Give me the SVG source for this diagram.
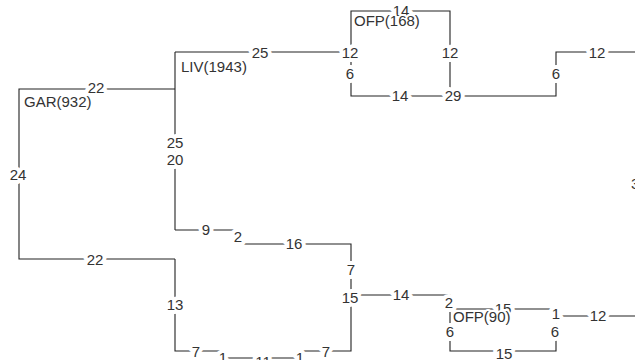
<svg xmlns="http://www.w3.org/2000/svg" width="635" height="360" viewBox="0 0 635 360">
<style>
.ln{fill:none;stroke:#222;stroke-width:1.1}
text{font-family:"Liberation Sans",Arial,sans-serif;font-size:15px;fill:#333;stroke:#fff;stroke-width:8px;paint-order:stroke;stroke-linejoin:round}
.e{text-anchor:middle}
.n{stroke-width:4px}
</style>
<rect width="635" height="360" fill="#fff"/>
<g id="connectors">
<path class="ln" d="M175,89 H19 V259 H175"/>
<path class="ln" d="M175,52 V230"/>
<path class="ln" d="M175,52 H351"/>
<path class="ln" d="M351,11 H450 V96 H351 Z"/>
<path class="ln" d="M450,96 H556 V52 H635"/>
<path class="ln" d="M175,230 H239 V244 H351 V351 H300 V358 H223 V351 H175 V259"/>
<path class="ln" d="M351,295 H450 V309"/>
<path class="ln" d="M450,309 H556 V351 H450 Z"/>
<path class="ln" d="M556,309 V316 H635"/>
<text class="e" x="96" y="93">22</text>
<text class="e" x="18" y="180">24</text>
<text class="e" x="175" y="148">25</text>
<text class="e" x="175" y="165">20</text>
<text class="e" x="260" y="58">25</text>
<text class="e" x="350" y="58">12</text>
<text class="e" x="350" y="79">6</text>
<text class="e" x="401" y="16">14</text>
<text class="e" x="450" y="58">12</text>
<text class="e" x="400" y="101">14</text>
<text class="e" x="453" y="101">29</text>
<text class="e" x="556" y="79">6</text>
<text class="e" x="597" y="58">12</text>
<text class="e" x="206" y="235">9</text>
<text class="e" x="238" y="242">2</text>
<text class="e" x="294" y="249">16</text>
<text class="e" x="351" y="275">7</text>
<text class="e" x="350" y="303">15</text>
<text class="e" x="401" y="300">14</text>
<text class="e" x="449" y="308">2</text>
<text class="e" x="503" y="314">15</text>
<text class="e" x="556" y="319">1</text>
<text class="e" x="450" y="337">6</text>
<text class="e" x="555" y="337">6</text>
<text class="e" x="504" y="359">15</text>
<text class="e" x="598" y="321">12</text>
<text class="e" x="175" y="310">13</text>
<text class="e" x="95" y="265">22</text>
<text class="e" x="196" y="357">7</text>
<text class="e" x="223" y="363">1</text>
<text class="e" x="263" y="367">11</text>
<text class="e" x="300" y="363">1</text>
<text class="e" x="326" y="357">7</text>
<text x="631" y="189">3</text>
</g>
<g id="GAR"><text class="n" x="24" y="107">GAR(932)</text></g>
<g id="LIV"><text class="n" x="181" y="72">LIV(1943)</text></g>
<g id="OFP168"><text class="n" x="354" y="26">OFP(168)</text></g>
<g id="OFP90"><text class="n" x="453" y="322">OFP(90)</text></g>
</svg>
